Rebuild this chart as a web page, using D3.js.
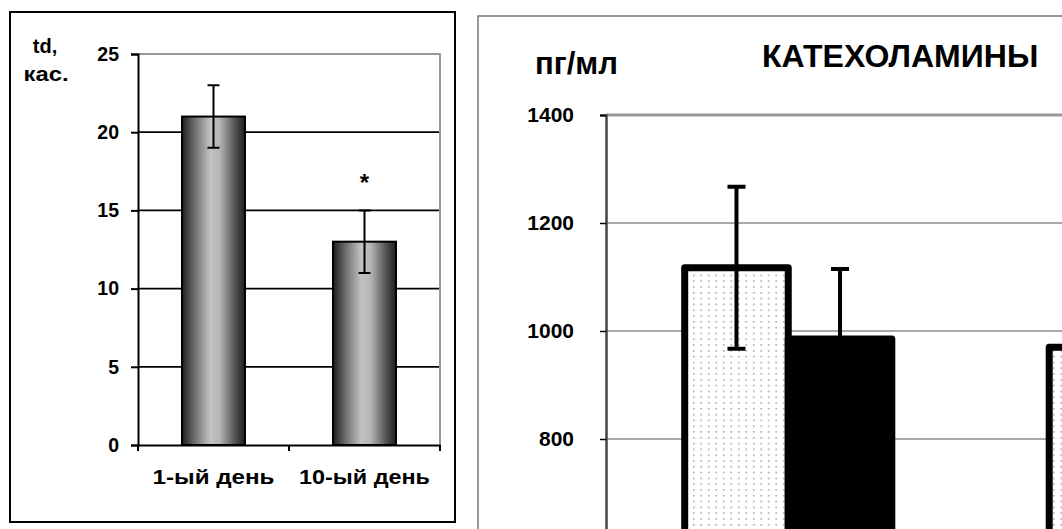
<!DOCTYPE html>
<html lang="ru">
<head>
<meta charset="UTF-8">
<title>td и катехоламины</title>
<style>
    body { margin: 0; background: #fff; }
    svg { display: block; }
    text { font-family: "Liberation Sans", Arial, sans-serif; font-weight: bold; fill: #000; }
</style>
</head>
<body>
<div id="chart"></div>
<script src="https://cdn.jsdelivr.net/npm/d3@7"></script>
<script>
// left chart: td, кас.
const days = ["1-ый день", "10-ый день"];
const dayLabelWidth = [122, 131];
const tdMean = [21, 13];
const tdErr = [2, 2];
const tdTicks = [0, 5, 10, 15, 20, 25];
const tdMarks = ["", "*"];

// right chart: КАТЕХОЛАМИНЫ (cropped on the right and bottom)
const groups = ["г1", "г2"];
const seriesNames = ["dots", "black"];
const dotsMean = [1117, 970];
const dotsErr = [150, null];
const blackMean = [985, null];
const blackErr = [130, null];
const catTicks = [800, 1000, 1200, 1400];

const W = 1062, H = 529;
const svg = d3.select("#chart").append("svg")
    .attr("width", W)
    .attr("height", H);

const defs = svg.append("defs");

// cylinder-like shading for left bars
const grad = defs.append("linearGradient")
    .attr("id", "cyl")
    .attr("x1", "0%").attr("x2", "100%")
    .attr("y1", "0%").attr("y2", "0%");
[[0, "#1e1e1e"], [0.2, "#6e6e6e"], [0.45, "#c2c2c2"], [0.6, "#b4b4b4"], [0.85, "#505050"], [1, "#1e1e1e"]]
    .forEach(s => grad.append("stop").attr("offset", s[0]).attr("stop-color", s[1]));

// dotted fill for right bars
const pat = defs.append("pattern")
    .attr("id", "dots")
    .attr("patternUnits", "userSpaceOnUse")
    .attr("width", 7.5).attr("height", 5.8);
pat.append("rect").attr("width", 7.5).attr("height", 5.8).attr("fill", "#fff");
pat.append("rect").attr("x", 3).attr("y", 2).attr("width", 1.5).attr("height", 1.5).attr("fill", "#9a9a9a");

// ---------- left panel ----------
svg.append("rect")
    .attr("x", 10).attr("y", 12)
    .attr("width", 445).attr("height", 510)
    .attr("fill", "none").attr("stroke", "#000").attr("stroke-width", 2);

const xL = d3.scaleBand().domain(days).range([138, 440]).paddingInner(0.583).paddingOuter(0.2915);
const yL = d3.scaleLinear().domain([0, 25]).range([445, 54]);

const gL = svg.append("g");

// gridlines
gL.selectAll(".grid")
    .data(tdTicks.filter(t => t > 0 && t < 25))
    .enter().append("line")
    .attr("x1", 138).attr("x2", 440)
    .attr("y1", d => yL(d)).attr("y2", d => yL(d))
    .attr("stroke", "#000").attr("stroke-width", 1.8);

// plot frame top/right (grey)
gL.append("path")
    .attr("d", `M138,${yL(25)}H440V${yL(0)}`)
    .attr("fill", "none").attr("stroke", "#999").attr("stroke-width", 2);

// y axis
const axL = gL.append("g")
    .attr("transform", "translate(138,0)")
    .call(d3.axisLeft(yL).tickValues(tdTicks).tickSize(7).tickPadding(12));
axL.select(".domain").attr("stroke", "#000").attr("stroke-width", 2);
axL.selectAll(".tick line").attr("stroke", "#000").attr("stroke-width", 2);
axL.selectAll(".tick text").attr("font-size", 19.5).attr("font-family", null);

// x axis
const axX = gL.append("g")
    .attr("transform", `translate(0,${yL(0)})`)
    .call(d3.axisBottom(xL).tickSize(0).tickPadding(25));
axX.select(".domain").attr("stroke", "#000").attr("stroke-width", 2);
axX.selectAll(".tick text")
    .attr("font-size", 20).attr("font-family", null)
    .attr("textLength", (d, i) => dayLabelWidth[i])
    .attr("lengthAdjust", "spacingAndGlyphs");
gL.selectAll(".xtick")
    .data([138, 289, 440])
    .enter().append("line")
    .attr("x1", d => d).attr("x2", d => d)
    .attr("y1", yL(0)).attr("y2", yL(0) + 6)
    .attr("stroke", "#000").attr("stroke-width", 2);

// bars
gL.selectAll(".bar")
    .data(days)
    .enter().append("rect")
    .attr("x", d => xL(d))
    .attr("y", (d, i) => yL(tdMean[i]))
    .attr("width", xL.bandwidth())
    .attr("height", (d, i) => yL(0) - yL(tdMean[i]))
    .attr("fill", "url(#cyl)")
    .attr("stroke", "#000").attr("stroke-width", 2);

// error bars
days.forEach((d, i) => {
    const cx = xL(d) + xL.bandwidth() / 2;
    const hi = yL(tdMean[i] + tdErr[i]), lo = yL(tdMean[i] - tdErr[i]);
    gL.append("path")
        .attr("d", `M${cx},${hi}V${lo}M${cx - 6},${hi}H${cx + 6}M${cx - 6},${lo}H${cx + 6}`)
        .attr("stroke", "#000").attr("stroke-width", 2).attr("fill", "none");
    if (tdMarks[i]) {
        gL.append("text")
            .attr("x", cx).attr("y", hi - 19)
            .attr("text-anchor", "middle")
            .attr("font-size", 24)
            .text(tdMarks[i]);
    }
});

// unit label
gL.append("text").attr("x", 45).attr("y", 53).attr("text-anchor", "middle").attr("font-size", 20).text("td,");
gL.append("text").attr("x", 46).attr("y", 81).attr("text-anchor", "middle").attr("font-size", 20)
    .attr("textLength", 45).attr("lengthAdjust", "spacingAndGlyphs").text("кас.");

// ---------- right panel ----------
svg.append("path")
    .attr("d", `M478,${H + 5}V16H${W + 5}`)
    .attr("fill", "none").attr("stroke", "#777").attr("stroke-width", 1.5);

const step = 364.5;
const xR = d3.scaleBand().domain(groups).range([606, 606 + step * groups.length]);
const xS = d3.scaleBand().domain(seriesNames).range([0, xR.bandwidth()]).paddingOuter(0.76);
const yR = d3.scaleLinear().domain([0, 1400]).range([871, 115]);

const gR = svg.append("g");

gR.selectAll(".grid")
    .data(catTicks.filter(t => t < 1400))
    .enter().append("line")
    .attr("x1", 606).attr("x2", W)
    .attr("y1", d => yR(d)).attr("y2", d => yR(d))
    .attr("stroke", "#555").attr("stroke-width", 1.2);

gR.append("line")
    .attr("x1", 606).attr("x2", W)
    .attr("y1", yR(1400)).attr("y2", yR(1400))
    .attr("stroke", "#999").attr("stroke-width", 3);

const axR = gR.append("g")
    .attr("transform", "translate(606,0)")
    .call(d3.axisLeft(yR).tickValues(catTicks).tickSize(6).tickPadding(26).tickFormat(d3.format("d")));
axR.select(".domain").attr("stroke", "#444").attr("stroke-width", 2.5);
axR.selectAll(".tick line").attr("stroke", "#000").attr("stroke-width", 1.5);
axR.selectAll(".tick text").attr("font-size", 21).attr("font-family", null);

const rows = [
    { key: "dots", mean: dotsMean, err: dotsErr, fill: "url(#dots)" },
    { key: "black", mean: blackMean, err: blackErr, fill: "#000" }
];

rows.forEach(r => {
    groups.forEach((g, i) => {
        if (r.mean[i] == null) return;
        const x0 = xR(g) + xS(r.key);
        gR.append("rect")
            .attr("x", x0).attr("y", yR(r.mean[i]))
            .attr("width", xS.bandwidth())
            .attr("height", yR(0) - yR(r.mean[i]))
            .attr("fill", r.fill)
            .attr("stroke", "#000").attr("stroke-width", 7)
            .attr("stroke-linejoin", "round");
    });
});

rows.forEach(r => {
    groups.forEach((g, i) => {
        if (r.mean[i] == null || r.err[i] == null) return;
        const cx = xR(g) + xS(r.key) + xS.bandwidth() / 2;
        const hi = yR(r.mean[i] + r.err[i]), lo = yR(r.mean[i] - r.err[i]);
        gR.append("path")
            .attr("d", `M${cx},${hi}V${lo}M${cx - 9},${hi}H${cx + 9}M${cx - 9},${lo}H${cx + 9}`)
            .attr("stroke", "#000").attr("stroke-width", 4).attr("fill", "none");
    });
});

gR.append("text").attr("x", 535).attr("y", 74).attr("font-size", 31).text("пг/мл");
gR.append("text").attr("x", 762).attr("y", 67).attr("font-size", 32).text("КАТЕХОЛАМИНЫ");
</script>
</body>
</html>
